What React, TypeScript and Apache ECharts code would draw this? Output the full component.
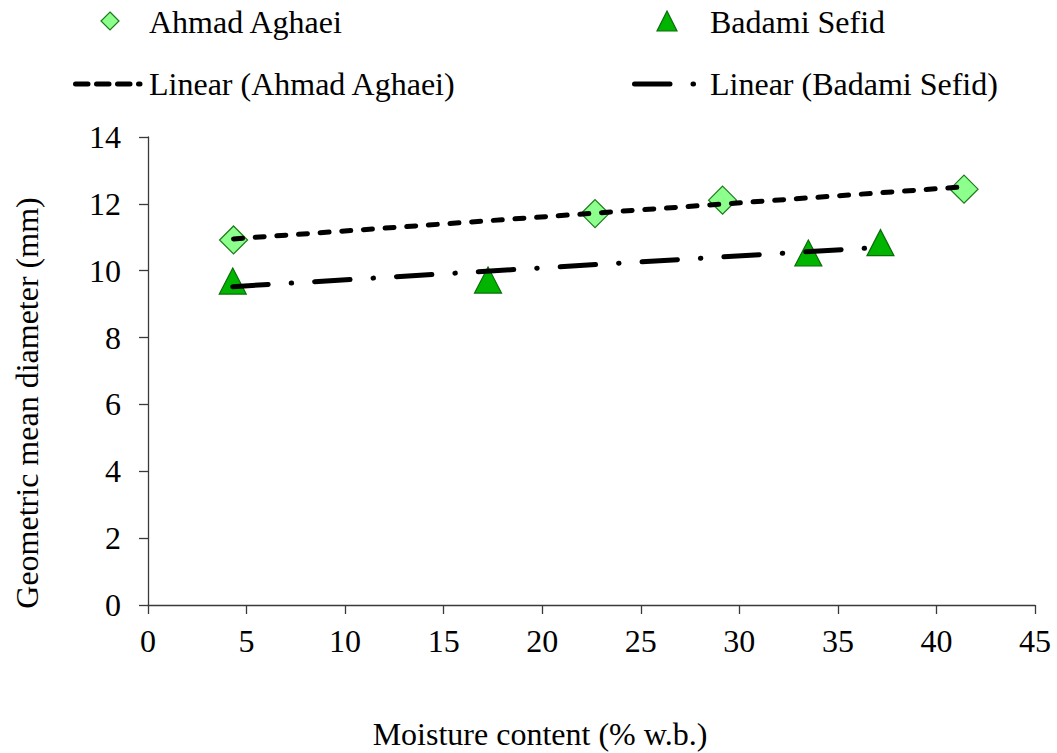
import React, { useEffect, useRef } from "react";
import * as echarts from "echarts";

// Moisture content (% w.b.) and geometric mean diameter (mm) per variety
const ahmadMoisture = [4.34, 22.68, 29.15, 41.4];
const ahmadDiameter = [10.92, 11.71, 12.11, 12.44];
const badamiMoisture = [4.3, 17.25, 33.5, 37.16];
const badamiDiameter = [9.69, 9.72, 10.53, 10.84];

const xTicks = { min: 0, max: 45, interval: 5 };
const yTicks = { min: 0, max: 14, interval: 2 };

const seriesNames = ["Ahmad Aghaei", "Badami Sefid"];
const trendNames = ["Linear (Ahmad Aghaei)", "Linear (Badami Sefid)"];
const xTitle = "Moisture content (% w.b.)";
const yTitle = "Geometric mean diameter (mm)";

const FONT = "Liberation Serif";
const FS = 32;
const DIAMOND_FILL = "#8cff8c";
const DIAMOND_EDGE = "#1a7a1a";
const TRI_FILL = "#00b400";
const TRI_EDGE = "#0a6e0a";
const AHMAD_DASH = [9, 12.7];
const BADAMI_DASH = [35.5, 23, 0.5, 23];

// Least-squares linear trendline over the x-range of the data
function linearTrend(xs: number[], ys: number[]): number[][] {
  const n = xs.length;
  const mx = xs.reduce((a, b) => a + b, 0) / n;
  const my = ys.reduce((a, b) => a + b, 0) / n;
  let sxy = 0;
  let sxx = 0;
  for (let i = 0; i < n; i++) {
    sxy += (xs[i] - mx) * (ys[i] - my);
    sxx += (xs[i] - mx) * (xs[i] - mx);
  }
  const slope = sxy / sxx;
  const x0 = Math.min(...xs);
  const x1 = Math.max(...xs);
  return [
    [x0, my + slope * (x0 - mx)],
    [x1, my + slope * (x1 - mx)],
  ];
}

const pairs = (xs: number[], ys: number[]) => xs.map((x, i) => [x, ys[i]]);

export default function App() {
  const ref = useRef<HTMLDivElement>(null);

  useEffect(() => {
    if (!ref.current) return;
    const chart = echarts.init(ref.current, undefined, { renderer: "svg" });

    const textStyle = (size: number) => ({
      fontFamily: FONT,
      fontSize: size,
      fill: "#000",
    });

    chart.setOption({
      animation: false,
      backgroundColor: "#fff",
      textStyle: { fontFamily: FONT },
      grid: { left: 148, top: 137, width: 887, height: 468, containLabel: false },
      xAxis: {
        type: "value",
        ...xTicks,
        splitLine: { show: false },
        axisLine: { onZero: false, lineStyle: { color: "#3a3a3a", width: 1.3 } },
        axisTick: { length: 9, lineStyle: { color: "#3a3a3a", width: 1.3 } },
        axisLabel: { margin: 20, color: "#000", fontFamily: FONT, fontSize: FS },
      },
      yAxis: {
        type: "value",
        ...yTicks,
        splitLine: { show: false },
        axisLine: { show: true, onZero: false, lineStyle: { color: "#3a3a3a", width: 1.3 } },
        axisTick: { show: true, length: 9, lineStyle: { color: "#3a3a3a", width: 1.3 } },
        axisLabel: { margin: 27, color: "#000", fontFamily: FONT, fontSize: FS },
      },
      series: [
        {
          name: seriesNames[0],
          type: "scatter",
          symbol: "diamond",
          symbolSize: [28, 28],
          data: pairs(ahmadMoisture, ahmadDiameter),
          itemStyle: { color: DIAMOND_FILL, borderColor: DIAMOND_EDGE, borderWidth: 1.2, opacity: 1 },
          z: 2,
        },
        {
          name: seriesNames[1],
          type: "scatter",
          symbol: "triangle",
          symbolSize: [27, 26],
          data: pairs(badamiMoisture, badamiDiameter),
          itemStyle: { color: TRI_FILL, borderColor: TRI_EDGE, borderWidth: 1.2, opacity: 1 },
          z: 2,
        },
        {
          name: trendNames[0],
          type: "line",
          showSymbol: false,
          symbol: "none",
          data: linearTrend(ahmadMoisture, ahmadDiameter),
          lineStyle: { color: "#000", width: 5, type: AHMAD_DASH, cap: "round" },
          z: 5,
        },
        {
          name: trendNames[1],
          type: "line",
          showSymbol: false,
          symbol: "none",
          data: linearTrend(badamiMoisture, badamiDiameter),
          lineStyle: { color: "#000", width: 5, type: BADAMI_DASH, cap: "round" },
          z: 5,
        },
      ],
      graphic: [
        // legend row 1: markers
        {
          type: "polygon",
          shape: { points: [[110, 12], [119, 21], [110, 30], [101, 21]] },
          style: { fill: DIAMOND_FILL, stroke: DIAMOND_EDGE, lineWidth: 1.2 },
        },
        {
          type: "text",
          x: 149,
          y: 22,
          style: { ...textStyle(FS), text: seriesNames[0], verticalAlign: "middle" },
        },
        {
          type: "polygon",
          shape: { points: [[667, 11], [677, 31], [657, 31]] },
          style: { fill: TRI_FILL, stroke: TRI_EDGE, lineWidth: 1.2 },
        },
        {
          type: "text",
          x: 710,
          y: 22,
          style: { ...textStyle(FS), text: seriesNames[1], verticalAlign: "middle" },
        },
        // legend row 2: trendline samples
        {
          type: "line",
          shape: { x1: 75.5, y1: 84, x2: 140, y2: 84 },
          style: { stroke: "#000", lineWidth: 5, lineDash: [12.5, 8.5], lineCap: "round" },
        },
        {
          type: "text",
          x: 149,
          y: 84,
          style: { ...textStyle(FS), text: trendNames[0], verticalAlign: "middle" },
        },
        {
          type: "line",
          shape: { x1: 634.5, y1: 84, x2: 695, y2: 84 },
          style: { stroke: "#000", lineWidth: 5, lineDash: BADAMI_DASH, lineCap: "round" },
        },
        {
          type: "text",
          x: 710,
          y: 84,
          style: { ...textStyle(FS), text: trendNames[1], verticalAlign: "middle" },
        },
        // axis titles
        {
          type: "text",
          x: 540,
          y: 734,
          style: { ...textStyle(FS), text: xTitle, align: "center", verticalAlign: "middle" },
        },
        {
          type: "text",
          x: 27,
          y: 403,
          rotation: Math.PI / 2,
          style: { ...textStyle(FS), text: yTitle, align: "center", verticalAlign: "middle" },
        },
      ],
    });

    return () => chart.dispose();
  }, []);

  return (
    <div
      ref={ref}
      style={{ position: "fixed", left: 0, top: 0, width: 1057, height: 753, background: "#fff" }}
    />
  );
}
